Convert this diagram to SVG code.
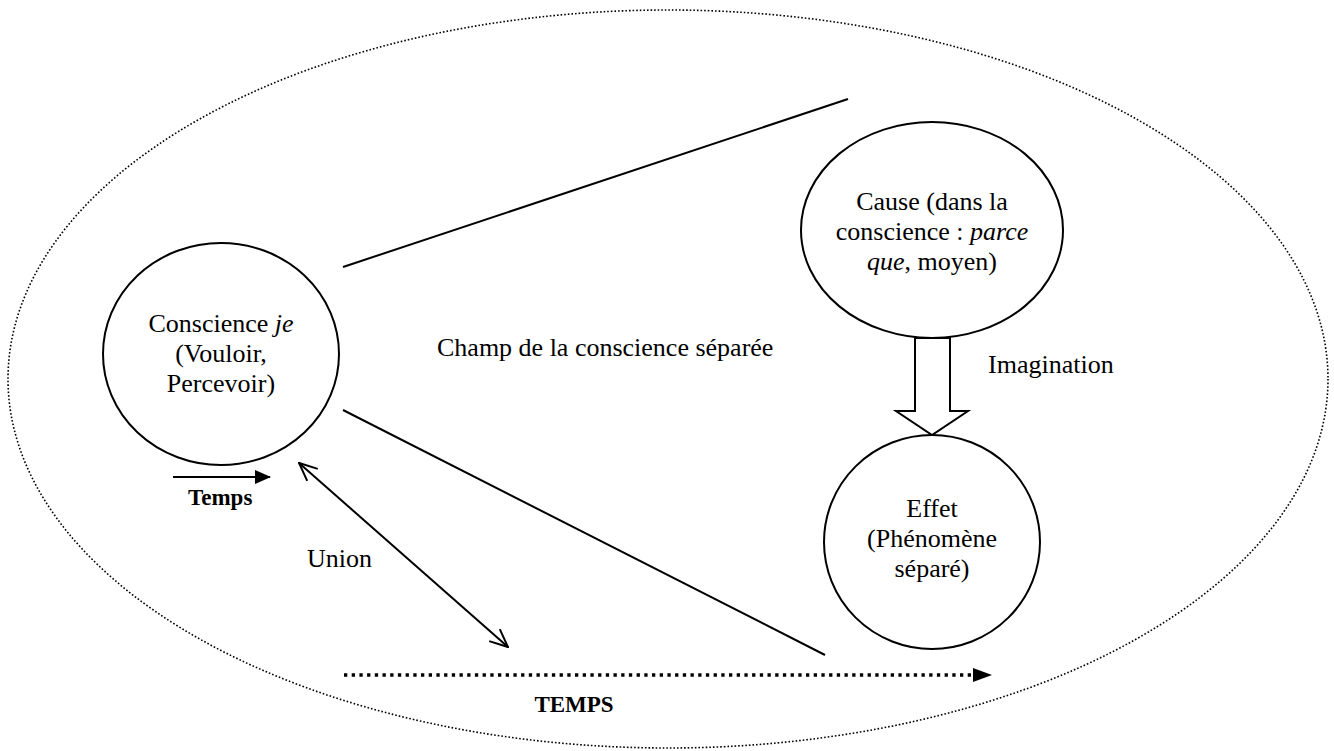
<svg xmlns="http://www.w3.org/2000/svg" width="1334" height="751" viewBox="0 0 1334 751">
<defs>
<style>
text{font-family:"Liberation Serif","Times New Roman",serif;font-size:26px;fill:#000}
.b{font-weight:bold;font-size:23px}
.node{fill:#fff;stroke:#000;stroke-width:2}
.ln{stroke:#000;stroke-width:2;fill:none}
</style>
<marker id="open" viewBox="0 0 20 20" refX="19" refY="10" markerWidth="20" markerHeight="20" markerUnits="userSpaceOnUse" orient="auto-start-reverse">
<path d="M1,2 L19,10 L1,18" fill="none" stroke="#000" stroke-width="2"/>
</marker>
<marker id="tri" viewBox="0 0 16 14" refX="15" refY="7" markerWidth="16" markerHeight="14" markerUnits="userSpaceOnUse" orient="auto">
<path d="M0,0 L16,7 L0,14 Z" fill="#000"/>
</marker>
</defs>
<rect width="1334" height="751" fill="#fff"/>
<g id="field">
<ellipse cx="668" cy="379" rx="660" ry="369" fill="none" stroke="#000" stroke-width="1.6" stroke-dasharray="1.6 2"/>
<text x="437" y="356">Champ de la conscience séparée</text>
</g>
<g id="connectors">
<line class="ln" x1="343" y1="267" x2="848" y2="99"/>
<line class="ln" x1="343" y1="410" x2="825" y2="655"/>
<line class="ln" x1="299" y1="463" x2="508" y2="647" marker-start="url(#open)" marker-end="url(#open)"/>
<line class="ln" x1="173" y1="477" x2="270" y2="477" marker-end="url(#tri)"/>
<line x1="344" y1="675" x2="978" y2="675" stroke="#000" stroke-width="3.3" stroke-dasharray="3.3 4.4"/>
<path d="M973,668 L992,675 L973,682 Z" fill="#000"/>
<path d="M915,338 L950,338 L950,411 L968,411 L932,435 L896,411 L915,411 Z" fill="#fff" stroke="#000" stroke-width="2"/>
<text x="988" y="373">Imagination</text>
<text x="307" y="567">Union</text>
<text class="b" x="188" y="505">Temps</text>
<text class="b" x="574" y="712" text-anchor="middle">TEMPS</text>
</g>
<g id="conscience">
<ellipse class="node" cx="221" cy="354" rx="118" ry="111"/>
<text x="221" y="332" text-anchor="middle">Conscience <tspan font-style="italic">je</tspan></text>
<text x="221" y="362" text-anchor="middle">(Vouloir,</text>
<text x="221" y="392" text-anchor="middle">Percevoir)</text>
</g>
<g id="cause">
<ellipse class="node" cx="932" cy="230" rx="131" ry="108"/>
<text x="932" y="210" text-anchor="middle">Cause (dans la</text>
<text x="932" y="240" text-anchor="middle">conscience : <tspan font-style="italic">parce</tspan></text>
<text x="932" y="270" text-anchor="middle"><tspan font-style="italic">que</tspan>, moyen)</text>
</g>
<g id="effet">
<ellipse class="node" cx="932" cy="542" rx="108" ry="107"/>
<text x="932" y="517" text-anchor="middle">Effet</text>
<text x="932" y="547" text-anchor="middle">(Phénomène</text>
<text x="932" y="577" text-anchor="middle">séparé)</text>
</g>
</svg>
